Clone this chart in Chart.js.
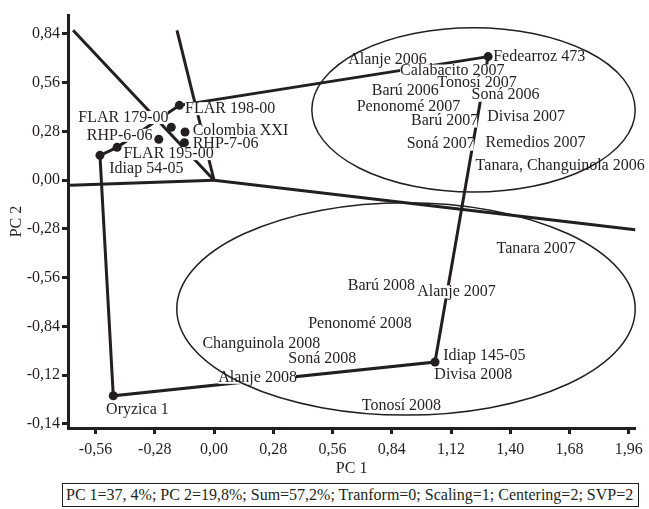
<!DOCTYPE html>
<html>
<head>
<meta charset="utf-8">
<script src="https://cdn.jsdelivr.net/npm/chart.js@4.4.1/dist/chart.umd.min.js"></script>
<style>
  html, body { margin: 0; padding: 0; background: #fff; }
  #wrap { position: relative; width: 649px; height: 509px; }
  #note {
    position: absolute; left: 62px; top: 483px; width: 577px; height: 24px;
    box-sizing: border-box; border: 1px solid #231f20; padding-left: 3px;
    font: 16px "Liberation Serif", serif; line-height: 22px; color: #231f20;
    white-space: nowrap; background: #fff;
  }
</style>
</head>
<body>
<div id="wrap">
  <canvas id="biplot" width="649" height="509"></canvas>
  <div id="note">PC 1=37, 4%; PC 2=19,8%; Sum=57,2%; Tranform=0; Scaling=1; Centering=2; SVP=2</div>
</div>
<script>
/* ---------- data ---------- */
const xTicks      = [-0.56, -0.28, 0, 0.28, 0.56, 0.84, 1.12, 1.40, 1.68, 1.96];
const xTickLabels = ["-0,56", "-0,28", "0,00", "0,28", "0,56", "0,84", "1,12", "1,40", "1,68", "1,96"];
const yTicks      = [-1.40, -1.12, -0.84, -0.56, -0.28, 0, 0.28, 0.56, 0.84];
const yTickLabels = ["-0,14", "-0,12", "-0,84", "-0,56", "-0,28", "0,00", "0,28", "0,56", "0,84"];

// genotypes (dots)
const genotypes = ["FLAR 198-00", "FLAR 179-00", "Colombia XXI", "RHP-6-06", "RHP-7-06",
                   "FLAR 195-00", "Idiap 54-05", "Fedearroz 473", "Idiap 145-05", "Oryzica 1"];
const genoX = [-0.164, -0.202, -0.137, -0.261, -0.140, -0.458, -0.539, 1.295, 1.044, -0.476];
const genoY = [ 0.430,  0.304,  0.277,  0.235,  0.216,  0.189,  0.143, 0.710, -1.044, -1.238];
// where each genotype name is written (left edge, middle)
const genoLabelX = [-0.137, -0.641, -0.101, -0.601, -0.101, -0.428, -0.495, 1.319, 1.083, -0.510];
const genoLabelY = [ 0.411,  0.360,  0.283,  0.258,  0.212,  0.153,  0.067, 0.710, -1.011, -1.318];

// polygon (hull) order
const hull = ["Fedearroz 473", "Idiap 145-05", "Oryzica 1", "Idiap 54-05", "FLAR 195-00", "FLAR 198-00", "Fedearroz 473"];

// rays from the origin
const rayEndX = [-0.666, -0.175, 1.99, -0.680];
const rayEndY = [ 0.861,  0.861, -0.285, -0.029];

// environments (text only)
const environments = ["Alanje 2006", "Calabacito 2007", "Tonosí 2007", "Barú 2006", "Soná 2006",
  "Penonomé 2007", "Barú 2007", "Divisa 2007", "Soná 2007", "Remedios 2007", "Tanara, Changuinola 2006",
  "Tanara 2007", "Barú 2008", "Alanje 2007", "Penonomé 2008", "Changuinola 2008", "Soná 2008",
  "Divisa 2008", "Alanje 2008", "Tonosí 2008"];
const envX = [0.634, 0.879, 1.055, 0.745, 1.217, 0.674, 0.931, 1.291, 0.910, 1.283, 1.236,
              1.335, 0.632, 0.960, 0.445, -0.055, 0.351, 1.041, 0.020, 0.698];
const envY = [0.694, 0.627, 0.561, 0.512, 0.488, 0.423, 0.340, 0.365, 0.207, 0.216, 0.082,
              -0.392, -0.606, -0.641, -0.826, -0.941, -1.027, -1.119, -1.132, -1.298];

// mega-environment ellipses
const ellCx = [1.226, 0.907];
const ellCy = [0.404, -0.739];
const ellRx = [0.764, 1.083];
const ellRy = [0.472, 0.610];

/* ---------- setup ---------- */
const INK = "#231f20";
const FONT = "'Liberation Serif', 'Times New Roman', serif";
Chart.defaults.font.family = FONT;
Chart.defaults.font.size = 16;
Chart.defaults.color = INK;

const pt = name => {
  const i = genotypes.indexOf(name);
  return { x: genoX[i], y: genoY[i] };
};

const rays = rayEndX.map((ex, i) => ({
  label: "Ray " + (i + 1),
  data: [{ x: 0, y: 0 }, { x: ex, y: rayEndY[i] }],
  showLine: true, pointRadius: 0, borderColor: INK, borderWidth: 3,
  order: 3, clip: 4
}));

/* labels + ellipses go on top of the lines, under the dots */
const biplotPlugin = {
  id: "biplot",
  afterDatasetDraw(chart, args) {
    if (chart.data.datasets[args.index].label !== "Polygon") return;
    const { ctx, scales: { x, y } } = chart;
    const labels = [];
    environments.forEach((t, i) => labels.push([t, envX[i], envY[i]]));
    genotypes.forEach((t, i) => labels.push([t, genoLabelX[i], genoLabelY[i]]));

    ctx.save();
    ctx.font = "16px " + FONT;
    ctx.textBaseline = "middle";
    ctx.textAlign = "left";
    // white boxes first so overlapping names stay readable
    ctx.fillStyle = "#fff";
    labels.forEach(([t, vx, vy]) => {
      const px = x.getPixelForValue(vx), py = y.getPixelForValue(vy);
      ctx.fillRect(px, py - 6.5, ctx.measureText(t).width - 1, 13);
    });
    ctx.fillStyle = INK;
    labels.forEach(([t, vx, vy]) => {
      ctx.fillText(t, x.getPixelForValue(vx), y.getPixelForValue(vy));
    });

    ctx.strokeStyle = INK;
    ctx.lineWidth = 1.5;
    ellCx.forEach((cx, i) => {
      const px = x.getPixelForValue(cx), py = y.getPixelForValue(ellCy[i]);
      const rx = Math.abs(x.getPixelForValue(cx + ellRx[i]) - px);
      const ry = Math.abs(y.getPixelForValue(ellCy[i] + ellRy[i]) - py);
      ctx.beginPath();
      ctx.ellipse(px, py, rx, ry, 0, 0, Math.PI * 2);
      ctx.stroke();
    });
    ctx.restore();
  }
};

new Chart(document.getElementById("biplot"), {
  type: "scatter",
  data: {
    datasets: [
      {
        label: "Genotypes",
        data: genotypes.map((g, i) => ({ x: genoX[i], y: genoY[i] })),
        pointRadius: 4.5, pointBackgroundColor: INK, pointBorderWidth: 0,
        order: 1, clip: false
      },
      {
        label: "Polygon",
        data: hull.map(pt),
        showLine: true, pointRadius: 0, borderColor: INK, borderWidth: 3,
        order: 2, clip: 4
      },
      ...rays
    ]
  },
  options: {
    responsive: false,
    animation: false,
    layout: { padding: { left: 0, right: 13, top: 15, bottom: 0 } },
    plugins: { legend: { display: false }, tooltip: { enabled: false } },
    scales: {
      x: {
        type: "linear", min: -0.69, max: 1.99,
        afterFit: s => { s.height = 81; },
        afterBuildTicks: s => { s.ticks = xTicks.map(v => ({ value: v })); },
        ticks: { callback: (v, i) => xTickLabels[i], autoSkip: false, maxRotation: 0, padding: 6, color: INK },
        grid: { drawOnChartArea: false, tickLength: 6, tickWidth: 3, tickColor: INK },
        border: { color: INK, width: 3 },
        title: { display: true, text: "PC 1", color: INK, align: "center", padding: { top: 0, bottom: 31 } }
      },
      y: {
        type: "linear", min: -1.423, max: 0.949,
        afterFit: s => { s.width = 68; },
        afterBuildTicks: s => { s.ticks = yTicks.map(v => ({ value: v })); },
        ticks: { callback: (v, i) => yTickLabels[i], autoSkip: false, padding: 2, color: INK },
        grid: { drawOnChartArea: false, tickLength: 6, tickWidth: 3, tickColor: INK },
        border: { color: INK, width: 3 },
        title: { display: true, text: "PC 2", color: INK, padding: { top: 7, bottom: 0 } }
      }
    }
  },
  plugins: [biplotPlugin]
});
</script>
</body>
</html>
